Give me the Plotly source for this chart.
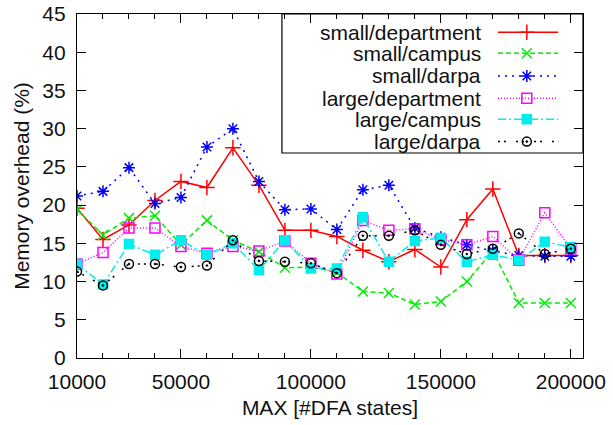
import plotly.graph_objects as go

max_states = [10000, 20000, 30000, 40000, 50000, 60000, 70000, 80000, 90000, 100000,
              110000, 120000, 130000, 140000, 150000, 160000, 170000, 180000, 190000, 200000]

small_department = [19.6, 15.5, 17.4, 20.6, 23.1, 22.3, 27.5, 22.6, 16.7, 16.7,
                    15.9, 14.1, 12.6, 14.2, 11.9, 18.1, 22.1, 13.4, 13.4, 13.4]
small_campus = [19.4, 16.1, 18.3, 18.6, 14.8, 18.0, 15.4, 13.9, 11.8, 11.9,
                11.2, 8.7, 8.5, 7.0, 7.4, 10.0, 14.0, 7.2, 7.2, 7.2]
small_darpa = [21.2, 21.8, 24.9, 20.2, 21.0, 27.6, 30.0, 23.1, 19.4, 19.5,
               16.8, 22.0, 22.6, 17.0, 15.8, 14.8, 14.0, 13.4, 13.3, 13.3]
large_department = [12.3, 13.8, 17.0, 17.0, 14.6, 13.7, 14.6, 14.0, 15.3, 12.4,
                    11.0, 18.0, 16.7, 16.9, 15.5, 14.8, 15.9, 12.8, 19.0, 14.3]
large_campus = [12.3, 9.6, 14.9, 13.5, 15.4, 13.5, 15.0, 11.5, 15.4, 11.7,
                11.7, 18.4, 12.6, 15.3, 15.7, 12.6, 13.5, 12.8, 15.2, 14.5]
large_darpa = [11.3, 9.5, 12.3, 12.3, 11.9, 12.1, 15.4, 12.7, 12.6, 12.4,
               11.1, 16.0, 16.0, 16.7, 14.8, 13.6, 14.3, 16.3, 13.6, 14.3]

series_names = ["small/department", "small/campus", "small/darpa",
                "large/department", "large/campus", "large/darpa"]
x_tick_values = [10000, 50000, 100000, 150000, 200000]
x_tick_labels = ["10000", "50000", "100000", "150000", "200000"]
y_tick_values = [0, 5, 10, 15, 20, 25, 30, 35, 40, 45]

series_values = [small_department, small_campus, small_darpa,
                 large_department, large_campus, large_darpa]

styles = [
    dict(color="#ff0000", dash="solid", symbol="cross-thin-open", size=11),
    dict(color="#00ee00", dash="5px,3px", symbol="x-thin-open", size=10),
    dict(color="#0000ff", dash="2px,5px", symbol="asterisk-open", size=10),
    dict(color="#ff00ff", dash="1px,2px", symbol="square-open", size=10),
    dict(color="#00eeee", dash="8px,3px,2px,3px", symbol="square", size=9),
    dict(color="#000000", dash="2px,4px,2px,10px", symbol="circle-open-dot", size=9),
]

FONT = "Liberation Sans, Arial, Helvetica, sans-serif"
fig = go.Figure()

for name, vals, st in zip(series_names, series_values, styles):
    fig.add_trace(go.Scatter(
        x=max_states, y=vals, name=name, mode="lines+markers",
        line=dict(color=st["color"], width=1.5, dash=st["dash"]),
        marker=dict(symbol=st["symbol"], size=st["size"], color=st["color"],
                    line=dict(color=st["color"], width=1.5)),
        showlegend=False,
    ))

# Custom gnuplot-like key (text on left, sample on right), drawn in axis-fraction coordinates
row_y = [0.947, 0.886, 0.820, 0.755, 0.694, 0.629]
x_line0, x_mark, x_line1, x_text = 0.832, 0.889, 0.951, 0.802
for name, st, ry in zip(series_names, styles, row_y):
    fig.add_trace(go.Scatter(
        x=[x_line0, x_line1], y=[ry, ry], xaxis="x2", yaxis="y2", mode="lines",
        line=dict(color=st["color"], width=1.5, dash=st["dash"]),
        showlegend=False, hoverinfo="skip"))
    fig.add_trace(go.Scatter(
        x=[x_mark], y=[ry], xaxis="x2", yaxis="y2", mode="markers",
        marker=dict(symbol=st["symbol"], size=st["size"], color=st["color"],
                    line=dict(color=st["color"], width=1.5)),
        showlegend=False, hoverinfo="skip"))
    fig.add_annotation(x=x_text, y=ry, xref="paper", yref="paper", text=name,
                       showarrow=False, xanchor="right", yanchor="middle",
                       font=dict(family=FONT, size=21, color="#111111"))

fig.add_shape(type="rect", xref="paper", yref="paper", x0=0.405, x1=1.0, y0=0.596, y1=1.0,
              line=dict(color="black", width=1.2), fillcolor="rgba(0,0,0,0)")

fig.update_layout(
    width=613, height=425,
    margin=dict(l=77, r=30, t=14, b=67, autoexpand=False),
    paper_bgcolor="white", plot_bgcolor="white",
    font=dict(family=FONT, size=21, color="#111111"),
    xaxis=dict(
        range=[10000, 204700], tickvals=x_tick_values, ticktext=x_tick_labels,
        ticks="inside", ticklen=9, tickcolor="black", tickwidth=1,
        minor=dict(ticks="inside", ticklen=5, tick0=10000, dtick=10000, tickcolor="black"),
        showline=True, linecolor="black", linewidth=1.2, mirror="ticks",
        showgrid=False, zeroline=False, automargin=False, ticklabeloverflow="allow",
        title=dict(text="MAX [#DFA states]", standoff=8, font=dict(size=21)),
        ticklabelstandoff=5,
    ),
    yaxis=dict(
        range=[0, 45], tickvals=y_tick_values,
        ticks="inside", ticklen=9, tickcolor="black", tickwidth=1,
        showline=True, linecolor="black", linewidth=1.2, mirror="ticks",
        showgrid=False, zeroline=False, automargin=False, ticklabeloverflow="allow",
        title=dict(text="Memory overhead (%)", standoff=6, font=dict(size=21)),
        ticklabelstandoff=6,
    ),
    xaxis2=dict(range=[0, 1], overlaying="x", visible=False, domain=[0, 1]),
    yaxis2=dict(range=[0, 1], overlaying="y", visible=False),
)

# remove the browser's default 8px body margin so the figure sits at the page origin
fig.write_html("out.html", config={"displayModeBar": False},
               post_script="document.body.style.margin='0';")
